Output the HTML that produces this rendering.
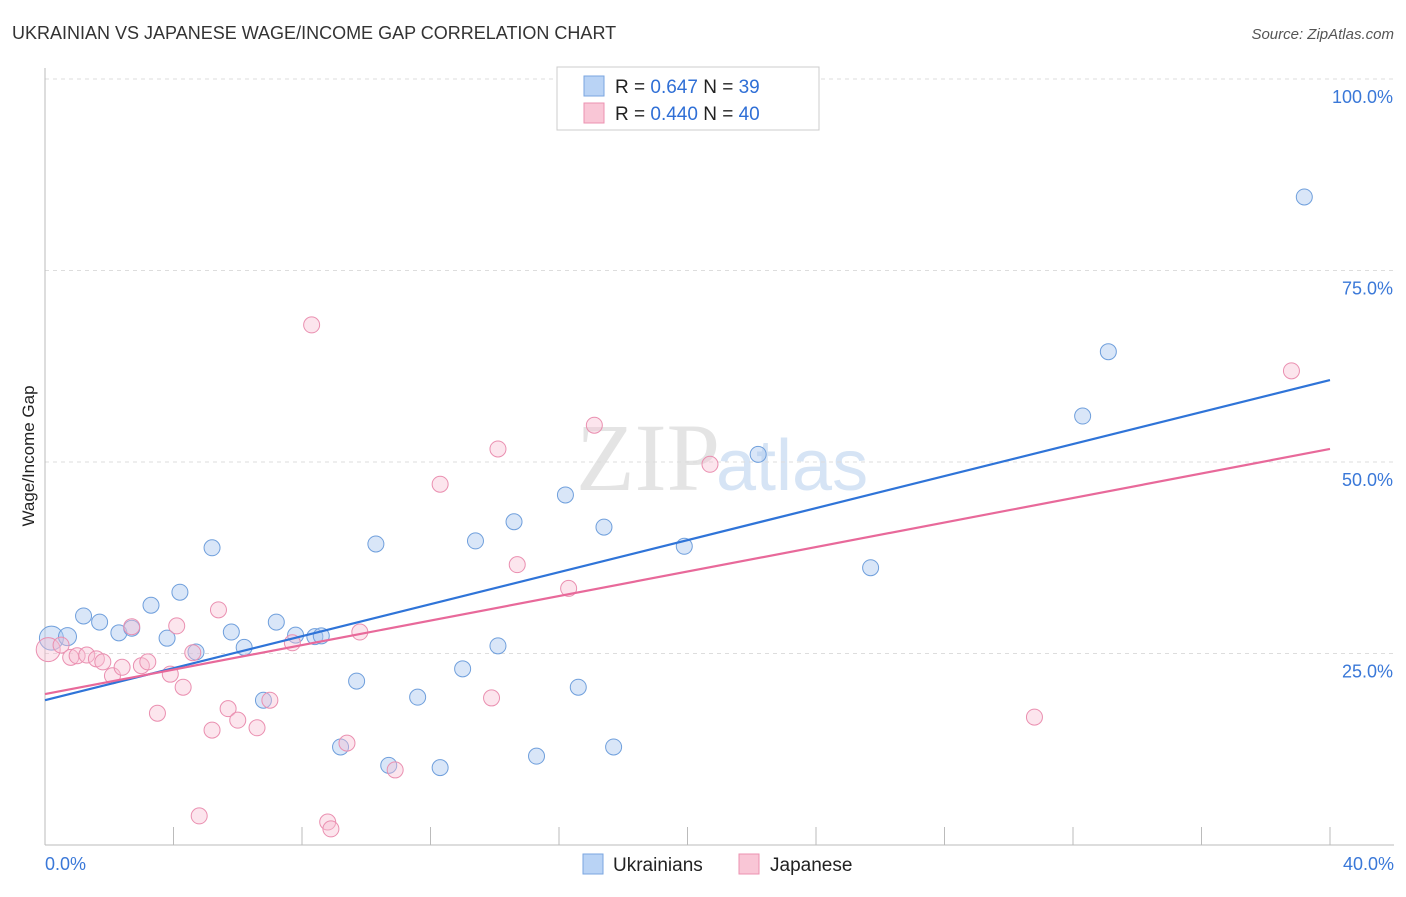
<!DOCTYPE html>
<html><head><meta charset="utf-8"><style>
body{margin:0;background:#fff;font-family:"Liberation Sans",sans-serif}
</style></head><body>
<svg id="c" width="1406" height="892" xmlns="http://www.w3.org/2000/svg">
<text x="12" y="39" font-size="18" fill="#333">UKRAINIAN VS JAPANESE WAGE/INCOME GAP CORRELATION CHART</text>
<text x="1394" y="39" font-size="15" fill="#555" font-style="italic" text-anchor="end">Source: ZipAtlas.com</text>
<text x="720" y="490" font-size="96" fill="#e4e4e4" text-anchor="end" font-family="Liberation Serif">ZIP</text>
<text x="716" y="490" font-size="72" fill="#d6e4f5">atlas</text>
<text transform="translate(34,456) rotate(-90)" font-size="17" fill="#222" text-anchor="middle">Wage/Income Gap</text>
<g id="grid"></g><g id="pts"></g><g id="lines"></g>
<g>
<rect x="557" y="67" width="262" height="63" fill="#fff" stroke="#ccc"/>
<rect x="584" y="76" width="20" height="20" fill="#b9d3f5" stroke="#7aa6e0"/>
<rect x="584" y="103" width="20" height="20" fill="#f9c6d6" stroke="#ec92b0"/>
<text x="615" y="93" font-size="19" fill="#222">R = <tspan fill="#2f6fd6">0.647</tspan>   N = <tspan fill="#2f6fd6">39</tspan></text>
<text x="615" y="120" font-size="19" fill="#222">R = <tspan fill="#2f6fd6">0.440</tspan>   N = <tspan fill="#2f6fd6">40</tspan></text>
</g>
<g>
<rect x="583" y="854" width="20" height="20" fill="#b9d3f5" stroke="#7aa6e0"/>
<text x="613" y="871" font-size="19" fill="#222">Ukrainians</text>
<rect x="739" y="854" width="20" height="20" fill="#f9c6d6" stroke="#ec92b0"/>
<text x="770" y="871" font-size="19" fill="#222">Japanese</text>
</g>
</svg>
<script>
const ukX=[0.2,0.7,1.2,1.7,2.3,2.7,3.3,3.8,4.2,4.7,5.2,5.8,6.2,6.8,7.2,7.8,8.4,8.6,9.2,9.7,10.3,10.7,11.6,12.3,13.0,13.4,14.1,14.6,15.3,16.2,16.6,17.4,17.7,19.9,22.2,25.7,32.3,33.1,39.2];
const ukY=[27.0,27.2,29.9,29.1,27.7,28.3,31.3,27.0,33.0,25.2,38.8,27.8,25.8,18.9,29.1,27.4,27.2,27.3,12.8,21.4,39.3,10.4,19.3,10.1,23.0,39.7,26.0,42.2,11.6,45.7,20.6,41.5,12.8,39.0,51.0,36.2,56.0,64.4,84.6];
const jpX=[0.1,0.5,0.8,1.0,1.3,1.6,1.8,2.1,2.4,2.7,3.0,3.2,3.5,3.9,4.1,4.3,4.6,4.8,5.2,5.4,5.7,6.0,6.6,7.0,7.7,8.3,8.8,8.9,9.4,9.8,10.9,12.3,13.9,14.1,14.7,16.3,17.1,20.7,30.8,38.8];
const jpY=[25.5,26.1,24.5,24.7,24.8,24.3,23.9,22.1,23.2,28.5,23.4,23.9,17.2,22.3,28.6,20.6,25.1,3.8,15.0,30.7,17.8,16.3,15.3,18.9,26.4,67.9,3.0,2.1,13.3,27.8,9.8,47.1,19.2,51.7,36.6,33.5,54.8,49.7,16.7,61.9];
const ukTrend=[18.9,60.7];
const jpTrend=[19.7,51.7];
const yTicks=[25,50,75,100];
const xTicks=[0,4,8,12,16,20,24,28,32,36,40];
const NS='http://www.w3.org/2000/svg';
const sx=v=>45+v*(1285/40), sy=v=>845-v*(766/100);
function mk(t,a,p){const e=document.createElementNS(NS,t);for(const k in a)e.setAttribute(k,a[k]);p.appendChild(e);return e;}
const g=document.getElementById('grid');
for(const t of yTicks){
 const l=mk('line',{x1:45,x2:1394,y1:sy(t),y2:sy(t),stroke:'#ddd','stroke-dasharray':'4,4'},g);
 
 
 const tx=mk('text',{x:1393,y:sy(t)+24,'font-size':18,fill:'#3a78d8','text-anchor':'end'},g);
 tx.textContent=t.toFixed(1)+'%';
 
 
}
const ax=mk('line',{x1:45,x2:1394,y1:845,y2:845,stroke:'#bbb'},g);


const ay=mk('line',{x1:45,x2:45,y1:68,y2:845,stroke:'#bbb'},g);


for(const t of xTicks){
 const l=mk('line',{x1:sx(t),x2:sx(t),y1:827,y2:845,stroke:'#bbb'},g);
 
 
}
const xl0=mk('text',{x:45,y:870,'font-size':18,fill:'#3a78d8'},g);xl0.textContent='0.0%';


const xl1=mk('text',{x:1394,y:870,'font-size':18,fill:'#3a78d8','text-anchor':'end'},g);xl1.textContent='40.0%';


const P=document.getElementById('pts');
ukX.forEach((x,i)=>{const c=mk('circle',{cx:sx(x),cy:sy(ukY[i]),r:i<2?(i==0?12:9):8,fill:'rgba(170,200,240,0.45)',stroke:'#6f9fdc','stroke-width':1},P);
 
 });
jpX.forEach((x,i)=>{const c=mk('circle',{cx:sx(x),cy:sy(jpY[i]),r:i==0?12:8,fill:'rgba(248,190,210,0.4)',stroke:'#ea8fb0','stroke-width':1},P);
 
 });
const L=document.getElementById('lines');
const t1=mk('line',{x1:sx(0),y1:sy(ukTrend[0]),x2:sx(40),y2:sy(ukTrend[1]),stroke:'#2f74d8','stroke-width':2.2},L);


const t2=mk('line',{x1:sx(0),y1:sy(jpTrend[0]),x2:sx(40),y2:sy(jpTrend[1]),stroke:'#e8699a','stroke-width':2.2},L);


</script>
</body></html>
